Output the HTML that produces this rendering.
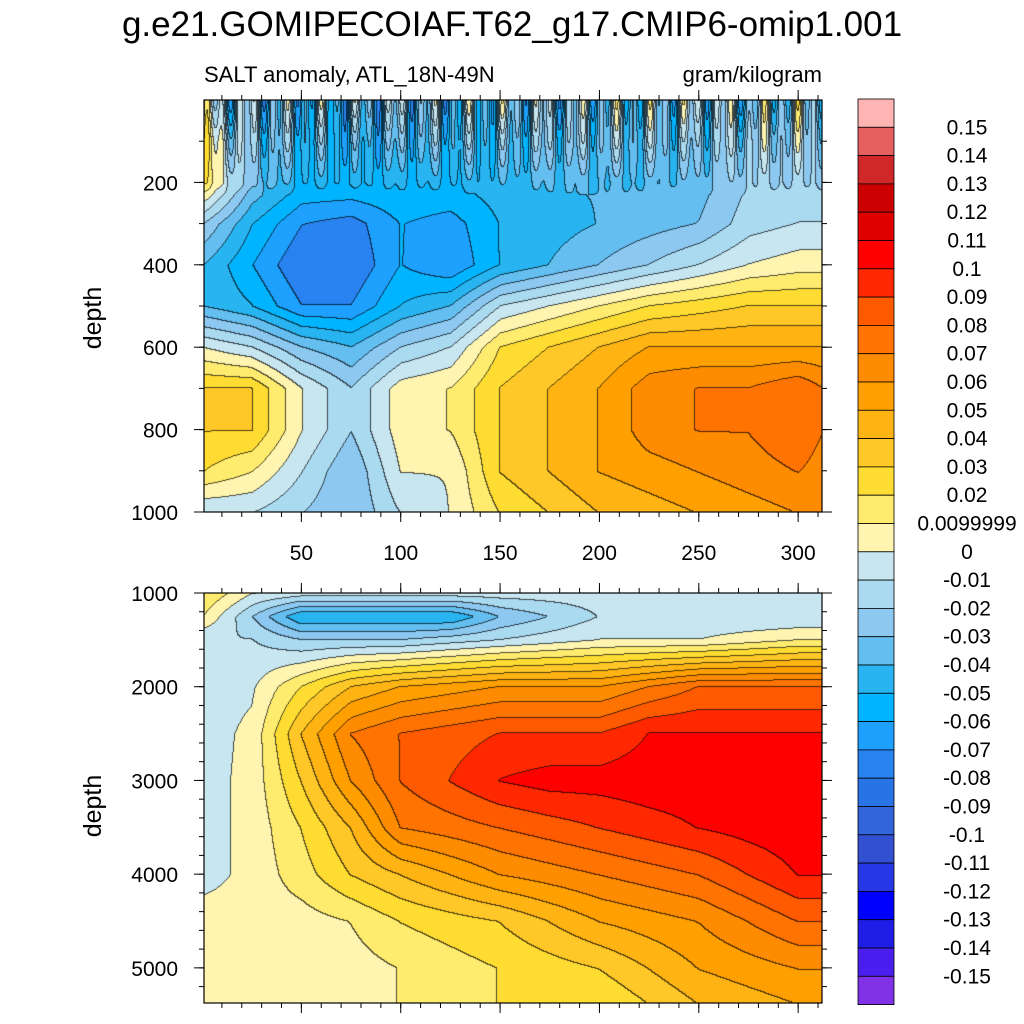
<!DOCTYPE html>
<html><head><meta charset="utf-8">
<style>
body{margin:0;background:#fff;width:1024px;height:1024px;overflow:hidden;position:relative;font-family:"Liberation Sans",sans-serif}
canvas{position:absolute}
svg{position:absolute;left:0;top:0}
</style></head>
<body>
<canvas id="topc" style="left:204px;top:100px" width="618" height="412"></canvas>
<canvas id="botc" style="left:204px;top:593px" width="618" height="410"></canvas>
<svg id="s" width="1024" height="1024">
<text x="512" y="36" font-size="35" text-anchor="middle">g.e21.GOMIPECOIAF.T62_g17.CMIP6-omip1.001</text>
<text x="204" y="82" font-size="22">SALT anomaly, ATL_18N-49N</text>
<text x="822" y="82" font-size="22" text-anchor="end">gram/kilogram</text>
<text transform="translate(101,318) rotate(-90)" font-size="25" text-anchor="middle">depth</text>
<text transform="translate(101,806) rotate(-90)" font-size="25" text-anchor="middle">depth</text>
<g id="ax"></g>
</svg>
<script>
const levels=[-0.15,-0.14,-0.13,-0.12,-0.11,-0.1,-0.09,-0.08,-0.07,-0.06,-0.05,-0.04,-0.03,-0.02,-0.01,0,0.0099999,0.02,0.03,0.04,0.05,0.06,0.07,0.08,0.09,0.1,0.11,0.12,0.13,0.14,0.15];
const colors=["#8232e6","#4b1ef0","#1e1ee6","#0000ff","#2837e6","#3250d2","#3264dc","#2873e6","#2882f0","#1ea0ff","#00b4ff","#28b4f0","#64bef0","#8cc8f0","#aadaf0","#c8e6f0","#fff5b0","#ffec6e","#ffdc32","#ffc828","#ffb414","#ffa000","#ff8c00","#ff7300","#ff5a00","#ff2800","#ff0000","#e00000","#cc0000","#d02828","#e66060","#ffb4b4"];
const cbLabels=["0.15","0.14","0.13","0.12","0.11","0.1","0.09","0.08","0.07","0.06","0.05","0.04","0.03","0.02","0.0099999","0","-0.01","-0.02","-0.03","-0.04","-0.05","-0.06","-0.07","-0.08","-0.09","-0.1","-0.11","-0.12","-0.13","-0.14","-0.15"];
const years=[0,25,50,75,100,125,150,175,200,225,250,275,300,312];
const topDepths=[0,100,200,300,400,500,600,700,800,900,1000];
const topVals=[
[-0.02,-0.03,-0.04,-0.04,-0.03,-0.04,-0.03,-0.03,-0.03,-0.03,-0.02,-0.03,-0.02,-0.02],
[0.01,-0.03,-0.04,-0.05,-0.04,-0.04,-0.04,-0.03,-0.03,-0.03,-0.03,-0.02,-0.02,-0.02],
[0.02,-0.03,-0.05,-0.05,-0.05,-0.05,-0.045,-0.04,-0.04,-0.04,-0.035,-0.02,-0.02,-0.02],
[-0.02,-0.05,-0.07,-0.075,-0.06,-0.065,-0.05,-0.045,-0.04,-0.035,-0.03,-0.015,-0.01,-0.01],
[-0.04,-0.06,-0.08,-0.08,-0.06,-0.07,-0.05,-0.04,-0.03,-0.02,-0.01,0.0,0.005,0.005],
[-0.04,-0.05,-0.07,-0.07,-0.05,-0.04,-0.01,0.0,0.01,0.02,0.025,0.03,0.03,0.03],
[0.0,-0.01,-0.03,-0.04,-0.02,-0.01,0.02,0.03,0.04,0.05,0.05,0.05,0.05,0.05],
[0.03,0.03,0.0,-0.02,0.005,0.01,0.03,0.04,0.05,0.065,0.07,0.07,0.078,0.07],
[0.03,0.03,0.0,-0.02,0.005,0.01,0.03,0.04,0.05,0.065,0.07,0.07,0.078,0.07],
[0.02,0.01,-0.01,-0.03,0.0,0.0,0.03,0.04,0.05,0.055,0.06,0.065,0.07,0.065],
[-0.01,-0.01,-0.02,-0.03,-0.01,0.0,0.02,0.03,0.04,0.045,0.05,0.055,0.06,0.06]];
const botDepths=[1000,1250,1500,2000,2500,3000,3500,4000,4500,5000,5375];
const botVals=[
[0.02,0.0,-0.005,-0.005,-0.005,-0.005,-0.005,-0.005,-0.005,-0.005,-0.005,-0.005,-0.005,-0.005],
[0.01,-0.02,-0.05,-0.05,-0.05,-0.05,-0.03,-0.02,-0.01,-0.01,-0.01,-0.01,-0.01,-0.01],
[-0.01,-0.01,-0.02,-0.02,-0.02,-0.015,-0.01,-0.005,0.0,0.0,0.0,0.005,0.01,0.01],
[-0.005,-0.002,0.02,0.04,0.05,0.055,0.06,0.06,0.06,0.07,0.08,0.08,0.08,0.08],
[-0.005,0.002,0.04,0.07,0.08,0.085,0.09,0.09,0.09,0.1,0.1,0.1,0.1,0.1],
[-0.005,0.003,0.03,0.06,0.08,0.09,0.1,0.104,0.104,0.106,0.106,0.106,0.1,0.1],
[-0.005,0.003,0.02,0.04,0.07,0.075,0.08,0.085,0.09,0.095,0.1,0.104,0.107,0.107],
[-0.005,0.003,0.015,0.03,0.04,0.05,0.06,0.065,0.07,0.075,0.08,0.09,0.1,0.1],
[0.005,0.005,0.005,0.01,0.02,0.025,0.03,0.04,0.05,0.055,0.06,0.07,0.08,0.08],
[0.0,0.005,0.005,0.005,0.01,0.015,0.02,0.025,0.03,0.04,0.05,0.055,0.06,0.06],
[0.0,0.005,0.005,0.005,0.01,0.015,0.02,0.02,0.02,0.03,0.04,0.045,0.05,0.05]];
const topXLabels=[50,100,150,200,250,300];
const topYLabels=[200,400,600,800,1000];
const botYLabels=[1000,2000,3000,4000,5000];

const X0=204,X1=822,XMIN=1,XMAX=312;
const xs=v=>X0+(v-XMIN)/(XMAX-XMIN)*(X1-X0);
const yTop=d=>100+d/1000*412;
const yBot=d=>593+(d-1000)/(5375-1000)*410;
function idxFor(v){let i=0;while(i<levels.length&&v>=levels[i])i++;return i;}
function hex(c){return [parseInt(c.substr(1,2),16),parseInt(c.substr(3,2),16),parseInt(c.substr(5,2),16)];}
const rgb=colors.map(hex);
function interp(arr,v){let i=0;while(i<arr.length-2&&v>arr[i+1])i++;let t=(v-arr[i])/(arr[i+1]-arr[i]);return [i,Math.max(0,Math.min(1,t))];}
function field(depths,vals,x,d){const [i,ti]=interp(years,x),[j,tj]=interp(depths,d);
 const a=vals[j][i],b=vals[j][i+1],c=vals[j+1][i],e=vals[j+1][i+1];
 return (a*(1-ti)+b*ti)*(1-tj)+(c*(1-ti)+e*ti)*tj;}
function paint(id,depths,vals,dmin,dmax,noisy){
 const cv=document.getElementById(id),ctx=cv.getContext('2d'),W=cv.width,H=cv.height;
 const idx=new Int16Array(W*H);
 for(let py=0;py<H;py++)for(let px=0;px<W;px++){
  const x=XMIN+px/W*(XMAX-XMIN),d=dmin+py/H*(dmax-dmin);
  let v=field(depths,vals,x,d)+0.0004;
  if(noisy&&d<230){v+=0.045*Math.sin(x*0.55)*Math.cos(x*0.21)*Math.max(0,1-d/230);}
  idx[py*W+px]=idxFor(v);}
 const im=ctx.createImageData(W,H);
 for(let p=0;p<W*H;p++){const px=p%W,py=(p/W)|0;let k=idx[p];
  let edge=(px<W-1&&idx[p+1]!==k)||(py<H-1&&idx[p+W]!==k);
  const c=rgb[k];const f=edge?0.3:1;
  im.data[4*p]=c[0]*f;im.data[4*p+1]=c[1]*f;im.data[4*p+2]=c[2]*f;im.data[4*p+3]=255;}
 ctx.putImageData(im,0,0);
}
paint('topc',topDepths,topVals,0,1000,true);
paint('botc',botDepths,botVals,1000,5375,false);

const ax=document.getElementById('ax'),NS='http://www.w3.org/2000/svg';
function mk(tag,at,txt){const e=document.createElementNS(NS,tag);for(const k in at)e.setAttribute(k,at[k]);if(txt!==undefined)e.textContent=txt;ax.appendChild(e);return e;}
[[100,512],[593,1003]].forEach(([t,b],k)=>{
 const r=mk('rect',{x:X0,y:t,width:X1-X0,height:b-t,fill:'none',stroke:'#000','stroke-width':1.2});
 
 
 for(let v=50;v<=300;v+=50){const x=xs(v);mk('line',{x1:x,x2:x,y1:b,y2:b+10,stroke:'#000'});mk('line',{x1:x,x2:x,y1:t,y2:t-10,stroke:'#000'});}
 for(let v=10;v<=310;v+=10){const x=xs(v);mk('line',{x1:x,x2:x,y1:b,y2:b+5,stroke:'#000'});mk('line',{x1:x,x2:x,y1:t,y2:t-5,stroke:'#000'});}
});
topXLabels.forEach(v=>{const e=mk('text',{x:xs(v),y:560,'font-size':21,'text-anchor':'middle'},v);});
topYLabels.forEach(v=>{const y=yTop(v);mk('line',{x1:X0-10,x2:X0,y1:y,y2:y,stroke:'#000'});mk('line',{x1:X1,x2:X1+10,y1:y,y2:y,stroke:'#000'});
 const e=mk('text',{x:178,y:y+8,'font-size':21,'text-anchor':'end'},v);});
for(let v=100;v<1000;v+=100){const y=yTop(v);mk('line',{x1:X0-5,x2:X0,y1:y,y2:y,stroke:'#000'});mk('line',{x1:X1,x2:X1+5,y1:y,y2:y,stroke:'#000'});}
botYLabels.forEach(v=>{const y=yBot(v);mk('line',{x1:X0-10,x2:X0,y1:y,y2:y,stroke:'#000'});mk('line',{x1:X1,x2:X1+10,y1:y,y2:y,stroke:'#000'});
 const e=mk('text',{x:178,y:y+8,'font-size':21,'text-anchor':'end'},v);});
for(let v=1200;v<5375;v+=200){const y=yBot(v);mk('line',{x1:X0-5,x2:X0,y1:y,y2:y,stroke:'#000'});mk('line',{x1:X1,x2:X1+5,y1:y,y2:y,stroke:'#000'});}
// colorbar
const CB0=99,CBH=28.3;
colors.slice().reverse().forEach((c,i)=>{const r=mk('rect',{x:858,y:CB0+i*CBH,width:36,height:CBH,fill:c,stroke:'#000','stroke-width':0.8});
 });
cbLabels.forEach((l,i)=>{const e=mk('text',{x:967,y:CB0+(i+1)*CBH+7,'font-size':21,'text-anchor':'middle'},l);
 });
</script>
</body></html>
